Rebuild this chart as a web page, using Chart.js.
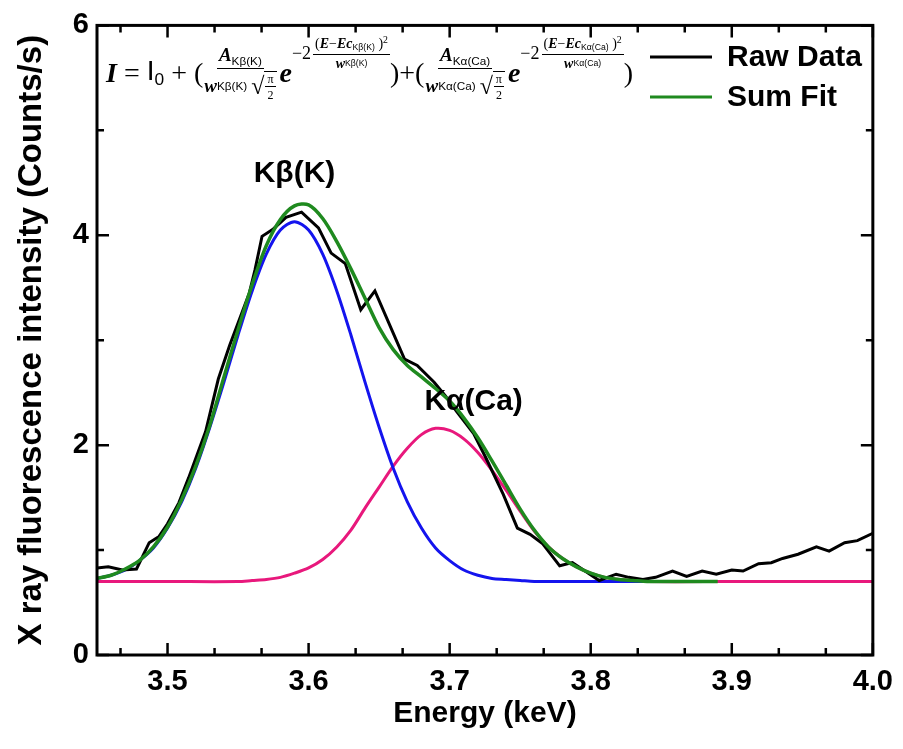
<!DOCTYPE html>
<html>
<head>
<meta charset="utf-8">
<script src="https://cdn.jsdelivr.net/npm/chart.js@4.4.1/dist/chart.umd.min.js"></script>
<style>
  html, body { margin: 0; padding: 0; background: #fff; }
  #wrap { position: relative; width: 903px; height: 749px; }
  #chart { display: block; }
  #formula {
    position: absolute; left: 106px; top: 32px; height: 82px;
    display: flex; align-items: center; white-space: nowrap; line-height: 1;
    font-family: 'Liberation Serif', 'DejaVu Serif', serif; font-size: 28px; color: #000;
  }
  #formula sub { font-family: 'Liberation Sans', sans-serif; font-size: 0.62em; vertical-align: -0.3em; font-weight: normal; font-style: normal; }
  #formula sup { font-size: 0.7em; vertical-align: 0.5em; }
  .bi { font-weight: bold; font-style: italic; }
  .sans { font-family: 'Liberation Sans', sans-serif; }
  .op { margin: 0 7px; }
  .frac { display: inline-flex; flex-direction: column; align-items: center; }
  .frac > .num { border-bottom: 1.5px solid #000; padding: 0 2px 1px; }
  .frac > .den { padding-top: 2px; display: inline-flex; align-items: center; }
  .main { font-size: 19px; margin: 0 1px; }
  .root { font-size: 12px; }
  .root > .num { border-bottom-width: 1px; }
  .sqrt { display: inline-flex; align-items: center; margin-left: 4px; }
  .rad { font-size: 24px; }
  .sqrt .root { border-top: 1px solid #000; padding: 1px 1px 0; }
  .e { margin-left: 2px; }
  .exp { display: inline-flex; align-items: center; font-size: 18px; position: relative; top: -20px; }
  .exp .frac { font-size: 14px; margin-left: 2px; }
</style>
</head>
<body>
<div id="wrap">
  <canvas id="chart" width="903" height="749"></canvas>
  <div id="formula">
    <span class="bi">I</span><span class="op">=</span><span class="sans">I<sub>0</sub></span><span class="op">+</span><span>(</span>
    <span class="frac main"><span class="num"><span class="bi">A</span><sub>Kβ(K)</sub></span><span class="den"><span class="bi">w</span><sub>Kβ(K)</sub><span class="sqrt"><span class="rad">√</span><span class="frac root"><span class="num">π</span><span class="den">2</span></span></span></span></span>
    <span class="bi e">e</span>
    <span class="exp"><span>−2</span><span class="frac"><span class="num">(<span class="bi">E</span>−<span class="bi">Ec</span><sub>Kβ(K)</sub> )<sup>2</sup></span><span class="den"><span class="bi">w</span><sub>Kβ(K)</sub></span></span></span>
    <span>)+(</span>
    <span class="frac main"><span class="num"><span class="bi">A</span><sub>Kα(Ca)</sub></span><span class="den"><span class="bi">w</span><sub>Kα(Ca)</sub><span class="sqrt"><span class="rad">√</span><span class="frac root"><span class="num">π</span><span class="den">2</span></span></span></span></span>
    <span class="bi e">e</span>
    <span class="exp"><span>−2</span><span class="frac"><span class="num">(<span class="bi">E</span>−<span class="bi">Ec</span><sub>Kα(Ca)</sub> )<sup>2</sup></span><span class="den"><span class="bi">w</span><sub>Kα(Ca)</sub></span></span></span>
    <span>)</span>
  </div>
</div>
<script>
// raw spectrum
const rawEnergy = [3.450, 3.458, 3.468, 3.478, 3.487, 3.494, 3.500, 3.508, 3.515, 3.527,
  3.536, 3.544, 3.551, 3.558, 3.562, 3.567, 3.575, 3.584, 3.595, 3.607,
  3.616, 3.626, 3.637, 3.647, 3.668, 3.677, 3.689, 3.697, 3.705, 3.717,
  3.726, 3.738, 3.748, 3.757, 3.766, 3.778, 3.787, 3.797, 3.806, 3.818,
  3.827, 3.837, 3.846, 3.858, 3.868, 3.879, 3.889, 3.900, 3.908, 3.919,
  3.928, 3.936, 3.947, 3.960, 3.969, 3.980, 3.989, 4.000];
const rawCounts = [0.83, 0.84, 0.81, 0.82, 1.07, 1.13, 1.25, 1.45, 1.69, 2.13,
  2.63, 2.95, 3.20, 3.45, 3.67, 3.99, 4.06, 4.17, 4.22, 4.07,
  3.83, 3.73, 3.29, 3.47, 2.82, 2.76, 2.60, 2.47, 2.32, 2.11,
  1.87, 1.53, 1.21, 1.15, 1.06, 0.85, 0.88, 0.79, 0.71, 0.77,
  0.74, 0.72, 0.74, 0.80, 0.75, 0.80, 0.77, 0.81, 0.80, 0.87,
  0.88, 0.92, 0.96, 1.03, 0.99, 1.07, 1.09, 1.16];

// sum fit
const fitEnergy = [3.45, 3.46, 3.47, 3.48, 3.49, 3.50, 3.51, 3.52, 3.53, 3.54,
  3.55, 3.56, 3.57, 3.58, 3.59, 3.60, 3.61, 3.62, 3.63, 3.64,
  3.65, 3.66, 3.67, 3.68, 3.69, 3.70, 3.71, 3.72, 3.73, 3.74,
  3.75, 3.76, 3.77, 3.78, 3.79, 3.80, 3.81, 3.82, 3.83, 3.84,
  3.85, 3.86, 3.87, 3.88, 3.89];
const sumFit = [0.73, 0.76, 0.82, 0.90, 1.03, 1.22, 1.48, 1.80, 2.19, 2.65,
  3.10, 3.53, 3.90, 4.15, 4.28, 4.29, 4.16, 3.94, 3.68, 3.40,
  3.12, 2.91, 2.76, 2.65, 2.54, 2.42, 2.26, 2.07, 1.85, 1.62,
  1.39, 1.19, 1.03, 0.92, 0.84, 0.78, 0.74, 0.72, 0.71, 0.70,
  0.70, 0.70, 0.70, 0.70, 0.70];

// K-beta (K) peak
const kbEnergy = [3.45, 3.46, 3.47, 3.48, 3.49, 3.50, 3.51, 3.52, 3.53, 3.54,
  3.55, 3.56, 3.57, 3.58, 3.59, 3.60, 3.61, 3.62, 3.63, 3.64,
  3.65, 3.66, 3.67, 3.68, 3.69, 3.70, 3.71, 3.72, 3.73, 3.74,
  3.75, 3.76, 3.77, 3.78, 3.79, 3.80, 3.81, 3.82, 3.83, 3.84];
const kbFit = [0.73, 0.76, 0.81, 0.90, 1.02, 1.21, 1.46, 1.78, 2.17, 2.60,
  3.05, 3.47, 3.82, 4.05, 4.13, 4.05, 3.82, 3.47, 3.05, 2.60,
  2.17, 1.78, 1.46, 1.21, 1.02, 0.90, 0.81, 0.76, 0.73, 0.72,
  0.71, 0.70, 0.70, 0.70, 0.70, 0.70, 0.70, 0.70, 0.70, 0.70];

// K-alpha (Ca) peak
const kaEnergy = [3.45, 3.50, 3.55, 3.56, 3.57, 3.58, 3.59, 3.60, 3.61, 3.62,
  3.63, 3.64, 3.65, 3.66, 3.67, 3.68, 3.69, 3.70, 3.71, 3.72,
  3.73, 3.74, 3.75, 3.76, 3.77, 3.78, 3.79, 3.80, 3.81, 3.82,
  3.83, 3.84, 3.90, 4.00];
const kaFit = [0.70, 0.70, 0.70, 0.71, 0.72, 0.74, 0.78, 0.83, 0.91, 1.03,
  1.19, 1.40, 1.60, 1.80, 1.97, 2.10, 2.16, 2.14, 2.06, 1.93,
  1.76, 1.57, 1.37, 1.18, 1.03, 0.92, 0.84, 0.78, 0.74, 0.72,
  0.71, 0.70, 0.70, 0.70];

const seriesNames = ['Raw Data', 'Sum Fit', 'Kβ(K)', 'Kα(Ca)'];
const seriesColors = ['#000000', '#1f8a1f', '#1414ee', '#e8187c'];
const peakLabels = [
  { text: 'Kβ(K)', x: 3.590, y: 4.59 },
  { text: 'Kα(Ca)', x: 3.717, y: 2.41 }
];

const xMajor = [3.5, 3.6, 3.7, 3.8, 3.9, 4.0];
const yMajor = [0, 2, 4, 6];
const yMinor = [1, 3, 5];
const xMinor = [];
for (let v = 3.5 - 0.1 / 3; v < 4.0; v += 0.1 / 3) {
  if (v > 3.45 && xMajor.every(m => Math.abs(m - v) > 0.005)) xMinor.push(v);
}

const pts = (xs, ys) => xs.map((x, i) => ({ x: x, y: ys[i] }));
const FONT = "'Liberation Sans', Arial, sans-serif";
Chart.defaults.font.family = FONT;
Chart.defaults.color = '#000';

const frameTicks = {
  id: 'frameTicks',
  afterDraw(chart) {
    const { ctx, chartArea: a, scales: { x, y } } = chart;
    ctx.save();
    ctx.strokeStyle = '#000';
    ctx.lineWidth = 3;
    ctx.strokeRect(a.left, a.top, a.right - a.left, a.bottom - a.top);
    ctx.lineWidth = 2.5;
    ctx.beginPath();
    const xt = (v, len) => {
      const px = x.getPixelForValue(v);
      ctx.moveTo(px, a.bottom); ctx.lineTo(px, a.bottom - len);
      ctx.moveTo(px, a.top); ctx.lineTo(px, a.top + len);
    };
    const yt = (v, len) => {
      const py = y.getPixelForValue(v);
      ctx.moveTo(a.left, py); ctx.lineTo(a.left + len, py);
      ctx.moveTo(a.right, py); ctx.lineTo(a.right - len, py);
    };
    xMajor.forEach(v => xt(v, 12));
    xMinor.forEach(v => xt(v, 7));
    yMajor.forEach(v => yt(v, 12));
    yMinor.forEach(v => yt(v, 7));
    ctx.stroke();

    // peak labels
    ctx.font = 'bold 30px ' + FONT;
    ctx.fillStyle = '#000';
    ctx.textAlign = 'center';
    ctx.textBaseline = 'middle';
    peakLabels.forEach(p => ctx.fillText(p.text, x.getPixelForValue(p.x), y.getPixelForValue(p.y)));

    // legend
    ctx.textAlign = 'left';
    [0, 1].forEach((i, k) => {
      const ly = 57 + k * 40;
      ctx.strokeStyle = seriesColors[i];
      ctx.lineWidth = 3;
      ctx.beginPath();
      ctx.moveTo(650, ly); ctx.lineTo(712, ly);
      ctx.stroke();
      ctx.fillText(seriesNames[i], 727, ly + 1);
    });
    ctx.restore();
  }
};

new Chart(document.getElementById('chart'), {
  type: 'line',
  data: {
    datasets: [
      { label: seriesNames[1], data: pts(fitEnergy, sumFit), borderColor: seriesColors[1], borderWidth: 3.5, tension: 0.3 },
      { label: seriesNames[0], data: pts(rawEnergy, rawCounts), borderColor: seriesColors[0], borderWidth: 3, tension: 0 },
      { label: seriesNames[2], data: pts(kbEnergy, kbFit), borderColor: seriesColors[2], borderWidth: 3, tension: 0.3 },
      { label: seriesNames[3], data: pts(kaEnergy, kaFit), borderColor: seriesColors[3], borderWidth: 3, tension: 0.3 }
    ]
  },
  options: {
    responsive: false,
    animation: false,
    elements: { point: { radius: 0 } },
    layout: { padding: { top: 20, right: 24, left: 0, bottom: 0 } },
    plugins: { legend: { display: false }, tooltip: { enabled: false } },
    scales: {
      x: {
        type: 'linear', min: 3.45, max: 4.0,
        grid: { display: false, drawTicks: false },
        border: { display: false },
        ticks: { font: { size: 29, weight: 'bold' }, padding: 10, maxRotation: 0, autoSkip: false, callback: v => v.toFixed(1) },
        title: { display: true, text: 'Energy (keV)', font: { size: 30, weight: 'bold' }, padding: { top: 0, bottom: 17 } },
        afterBuildTicks(s) { s.ticks = xMajor.map(v => ({ value: v })); },
        afterFit(s) { s.height = 94; }
      },
      y: {
        min: 0, max: 6,
        grid: { display: false, drawTicks: false },
        border: { display: false },
        ticks: { font: { size: 29, weight: 'bold' }, padding: 8, callback: v => String(v) },
        title: { display: true, text: 'X ray fluorescence intensity (Counts/s)', font: { size: 33, weight: 'bold' }, padding: { top: 12, bottom: 0 } },
        afterBuildTicks(s) { s.ticks = yMajor.map(v => ({ value: v })); },
        afterFit(s) { s.width = 97; }
      }
    }
  },
  plugins: [frameTicks]
});
</script>
</body>
</html>
